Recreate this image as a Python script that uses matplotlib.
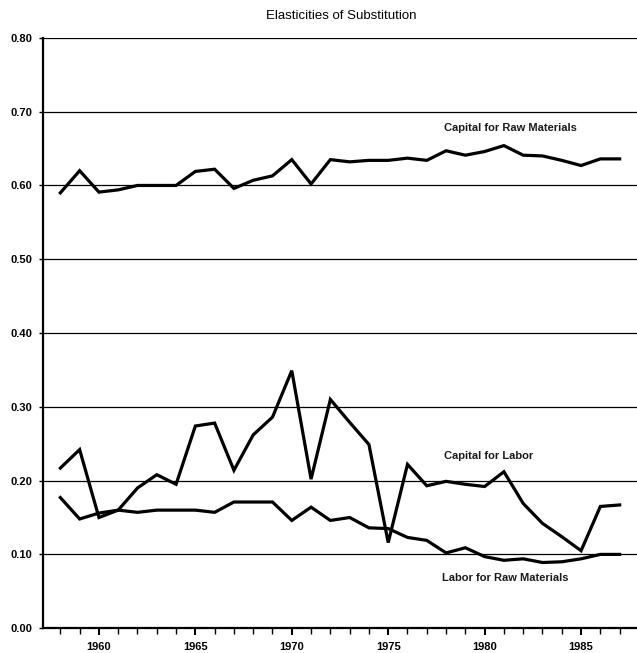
import matplotlib
matplotlib.use("Agg")
import matplotlib.pyplot as plt
from matplotlib.ticker import MultipleLocator, FixedLocator

years = list(range(1958, 1988))

capital_for_raw_materials = [0.590, 0.620, 0.591, 0.594, 0.600, 0.600, 0.600, 0.619, 0.622, 0.596,
                             0.607, 0.613, 0.635, 0.602, 0.635, 0.632, 0.634, 0.634, 0.637, 0.634,
                             0.647, 0.641, 0.646, 0.654, 0.641, 0.640, 0.634, 0.627, 0.636, 0.636]

capital_for_labor = [0.217, 0.242, 0.150, 0.160, 0.190, 0.208, 0.195, 0.274, 0.278, 0.214,
                     0.262, 0.286, 0.349, 0.202, 0.310, 0.279, 0.249, 0.116, 0.222, 0.193,
                     0.199, 0.195, 0.192, 0.212, 0.169, 0.142, 0.124, 0.105, 0.165, 0.167]

labor_for_raw_materials = [0.177, 0.148, 0.156, 0.160, 0.157, 0.160, 0.160, 0.160, 0.157, 0.171,
                           0.171, 0.171, 0.146, 0.164, 0.146, 0.150, 0.136, 0.135, 0.123, 0.119,
                           0.102, 0.109, 0.097, 0.092, 0.094, 0.089, 0.090, 0.094, 0.100, 0.100]

labels = ["Capital for Raw Materials", "Capital for Labor", "Labor for Raw Materials"]
label_pos = [(1977.9, 0.678), (1977.9, 0.233), (1977.8, 0.068)]

title = "Elasticities of Substitution"
y_ticks = [0.0, 0.1, 0.2, 0.3, 0.4, 0.5, 0.6, 0.7, 0.8]
x_major = [1960, 1965, 1970, 1975, 1980, 1985]

plt.rcParams['font.family'] = ['Liberation Sans', 'DejaVu Sans']

fig = plt.figure(figsize=(6.37, 6.53), dpi=100)
ax = fig.add_axes([0.0675, 0.038, 0.9325, 0.904])

for yv in y_ticks[1:]:
    ax.axhline(yv, color='black', linewidth=0.9, zorder=1)

for series in (capital_for_raw_materials, capital_for_labor, labor_for_raw_materials):
    ax.plot(years, series, color='black', linewidth=2.3, zorder=3, solid_joinstyle='miter')

for text, (xx, yy) in zip(labels, label_pos):
    ax.text(xx, yy, text, fontsize=8, fontweight='bold', ha='left', va='center', color='#1a1a1a')

ax.set_xlim(1957.1, 1987.9)
ax.set_ylim(0, 0.8)
ax.set_yticks(y_ticks)
ax.set_yticklabels([f"{v:.2f}" for v in y_ticks], fontsize=8, fontweight='bold')
ax.xaxis.set_major_locator(FixedLocator(x_major))
ax.xaxis.set_minor_locator(MultipleLocator(1))
ax.set_xticklabels([str(v) for v in x_major], fontsize=8, fontweight='bold')
ax.tick_params(axis='x', which='major', direction='out', length=5, width=1.5, pad=5)
ax.tick_params(axis='x', which='minor', direction='out', length=4, width=1.0)
ax.tick_params(axis='y', which='major', direction='out', length=3, width=1.0, pad=5)

for side in ('top', 'right'):
    ax.spines[side].set_visible(False)
ax.spines['left'].set_linewidth(1.6)
ax.spines['bottom'].set_linewidth(1.6)

fig.text(0.535, 0.975, title, fontsize=9.5, ha='center', va='center')

fig.savefig("out.png", dpi=100)
